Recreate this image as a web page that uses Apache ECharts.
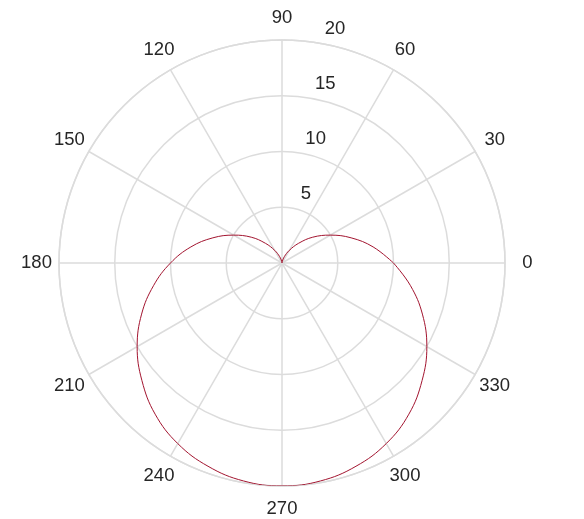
<!DOCTYPE html>
<html>
<head>
<meta charset="utf-8">
<script src="https://cdn.jsdelivr.net/npm/echarts@6/dist/echarts.min.js"></script>
<style>html,body{margin:0;padding:0;background:#fff;}#c{width:584px;height:519px;}</style>
</head>
<body>
<div id="c"></div>
<script>
// angle in degrees (counter-clockwise from east), radius values
const angles = [0,10,20,30,40,50,60,70,80,90,100,110,120,130,140,150,160,170,180,190,200,210,220,230,240,250,260,270,280,290,300,310,320,330,340,350,360];
const radii  = [10,8.3,6.6,5,3.6,2.3,1.3,0.6,0.15,0,0.15,0.6,1.3,2.3,3.6,5,6.6,8.3,10,11.7,13.4,15,16.4,17.7,18.7,19.4,19.85,20,19.85,19.4,18.7,17.7,16.4,15,13.4,11.7,10];
const radiusTicks = [0,5,10,15,20];
const angleTicks = [0,30,60,90,120,150,180,210,240,270,300,330];

const gridColor = '#dcdcdc';
const textColor = '#262626';
const font = 'Liberation Sans, Arial, sans-serif';
const center = [282, 263];
const R = 223;
// centered label token: tiny box so the text is centred on the anchor point
const centeredRich = {c: {width: 1, lineHeight: 1, align: 'center', verticalAlign: 'middle',
                          color: textColor, fontSize: 18.5, fontFamily: font}};

const chart = echarts.init(document.getElementById('c'), null, {renderer: 'canvas'});
chart.setOption({
  animation: false,
  backgroundColor: '#fff',
  polar: [
    {center: center, radius: R},
    {center: center, radius: [17, R + 17]}
  ],
  angleAxis: [
    {
      polarIndex: 0, type: 'value', min: angleTicks[0], max: 360, interval: 30,
      startAngle: 0, clockwise: false,
      axisLine: {show: true, lineStyle: {color: gridColor, width: 1.5}},
      axisTick: {show: false},
      axisLabel: {show: true, margin: 22, showMaxLabel: false,
                  formatter: v => '{c|' + v + '}', rich: centeredRich},
      splitLine: {show: true, lineStyle: {color: gridColor, width: 1.5}}
    },
    {
      polarIndex: 1, type: 'value', min: 0, max: 360,
      startAngle: 80, clockwise: false,
      axisLine: {show: false}, axisTick: {show: false}, axisLabel: {show: false}, splitLine: {show: false}
    }
  ],
  radiusAxis: [
    {
      polarIndex: 0, type: 'value', min: radiusTicks[0], max: radiusTicks[radiusTicks.length-1], interval: 5,
      axisLine: {show: false}, axisTick: {show: false}, axisLabel: {show: false},
      splitLine: {show: true, lineStyle: {color: gridColor, width: 1.5}}
    },
    {
      polarIndex: 1, type: 'value', min: radiusTicks[0], max: radiusTicks[radiusTicks.length-1], interval: 5,
      axisLine: {show: false}, axisTick: {show: false}, splitLine: {show: false},
      axisLabel: {show: true, showMinLabel: false, margin: -12,
                  formatter: v => '{c|' + v + '}', rich: centeredRich}
    }
  ],
  series: [{
    type: 'line', coordinateSystem: 'polar', polarIndex: 0,
    data: angles.map((a, i) => [radii[i], a]),
    showSymbol: false, smooth: 0.4,
    lineStyle: {color: '#a2142f', width: 1}
  }]
});
</script>
</body>
</html>
